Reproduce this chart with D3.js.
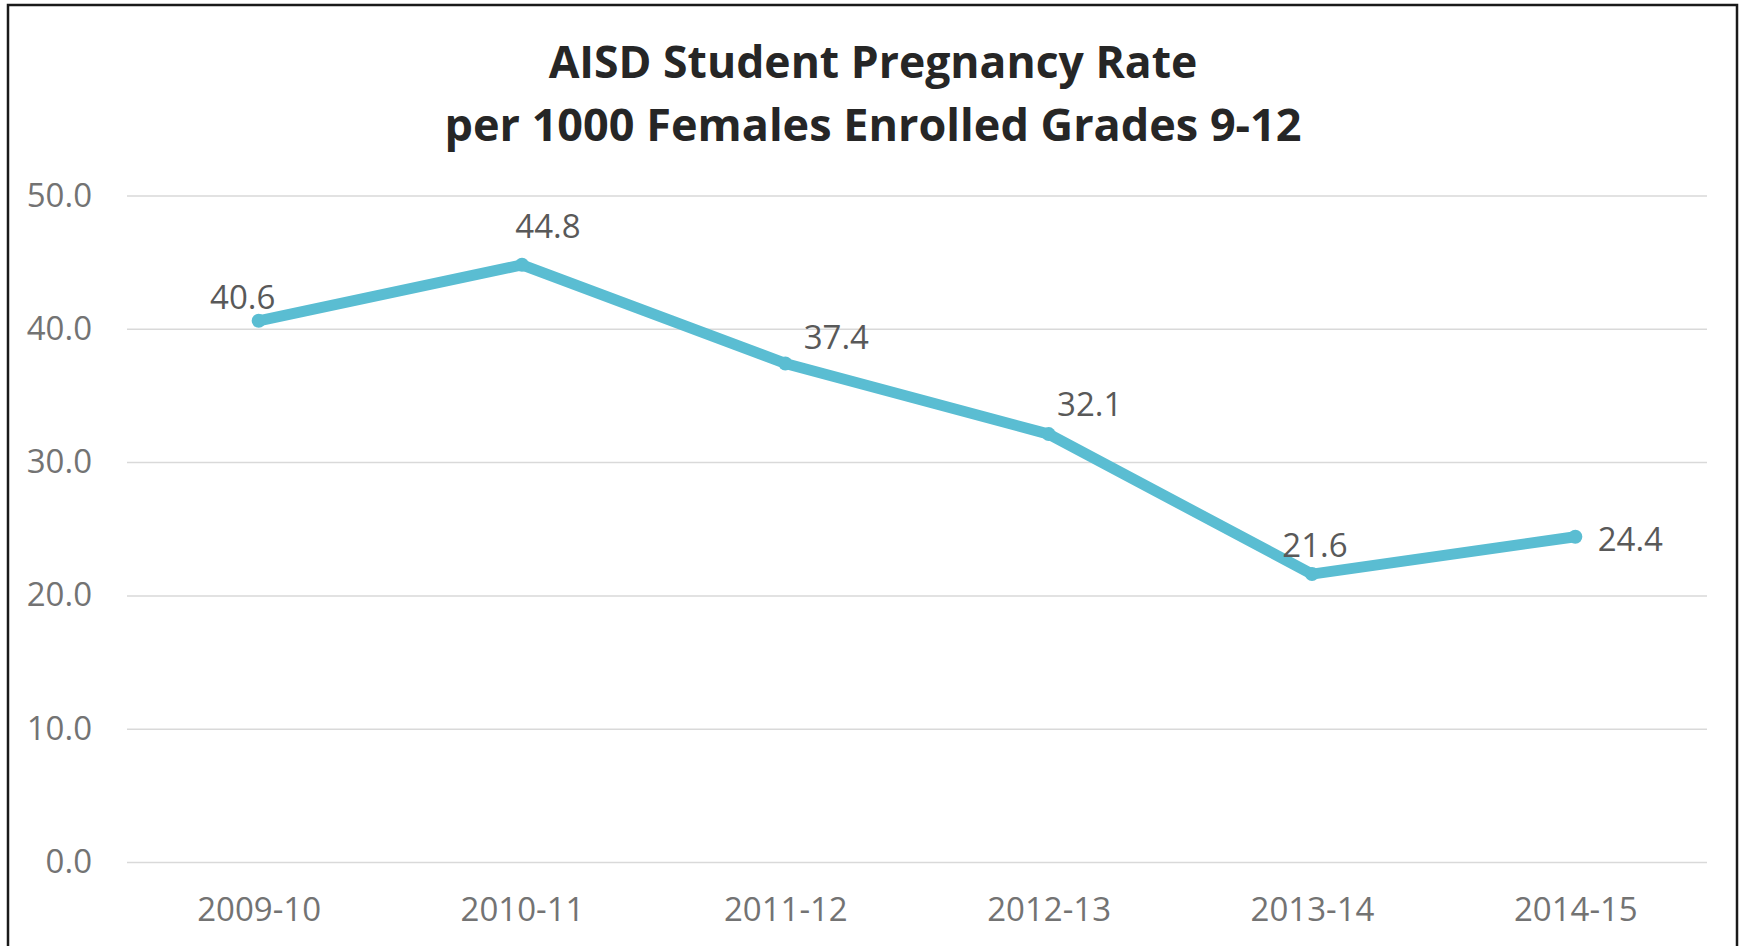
<!DOCTYPE html>
<html>
<head>
<meta charset="utf-8">
<script src="https://cdn.jsdelivr.net/npm/d3@7"></script>
<style>
  html, body { margin: 0; padding: 0; background: #fff; }
  svg { display: block; }
  text { font-family: "Open Sans", "Noto Sans", sans-serif; }
</style>
</head>
<body>
<svg id="chart" width="1741" height="946"></svg>
<script>
// ---- data ----
const categories = ["2009-10", "2010-11", "2011-12", "2012-13", "2013-14", "2014-15"];
const rates = [40.6, 44.8, 37.4, 32.1, 21.6, 24.4];
const yTicks = [0, 10, 20, 30, 40, 50];
const titleLines = ["AISD Student Pregnancy Rate", "per 1000 Females Enrolled Grades 9-12"];
// manual label nudges (layout, as in the original chart)
const labelNudge = [[-16, -12], [26, -27], [51, -14], [41, -18], [3, -17], [55, 14]];

(function () {
  const W = 1741, H = 946;
  const plotLeft = 127, plotRight = 1707, plotTop = 195.5, plotBottom = 862;
  const svg = d3.select("#chart");

  svg.append("rect").attr("x", 0).attr("y", 0).attr("width", W).attr("height", H).attr("fill", "#fff");
  svg.append("rect")
    .attr("x", 8).attr("y", 5).attr("width", 1729).attr("height", 960)
    .attr("fill", "none").attr("stroke", "#1a1a1a").attr("stroke-width", 2.5);

  const x = d3.scalePoint().domain(categories).range([plotLeft, plotRight]).padding(0.5);
  const y = d3.scaleLinear().domain([0, 50]).range([plotBottom, plotTop]);

  svg.append("g").selectAll("text").data(titleLines).join("text")
    .attr("x", 873).attr("y", (d, i) => 78 + i * 63)
    .attr("text-anchor", "middle")
    .attr("font-size", (d, i) => i === 0 ? 44.5 : 45).attr("font-weight", 700).attr("fill", "#262626")
    .text(d => d);

  const yAxis = d3.axisLeft(y).tickValues(yTicks).tickFormat(d3.format(".1f"))
    .tickSize(-(plotRight - plotLeft)).tickPadding(35);
  const gy = svg.append("g").attr("transform", `translate(${plotLeft},0)`).call(yAxis);
  gy.select(".domain").remove();
  gy.selectAll(".tick line").attr("stroke", "#d9d9d9").attr("stroke-width", 1.5);
  gy.selectAll(".tick text").attr("font-size", 33).attr("fill", "#737373")
    .attr("font-family", "'Open Sans', sans-serif");

  const xAxis = d3.axisBottom(x).tickSize(0).tickPadding(0);
  const gx = svg.append("g").attr("transform", `translate(0,${plotBottom})`).call(xAxis);
  gx.select(".domain").remove();
  gx.selectAll(".tick text").attr("font-size", 33).attr("fill", "#737373")
    .attr("font-family", "'Open Sans', sans-serif")
    .attr("y", 59).attr("dy", 0);

  const pts = categories.map((c, i) => ({ c, v: rates[i], i }));
  const line = d3.line().x(d => x(d.c)).y(d => y(d.v));
  svg.append("path").datum(pts)
    .attr("d", line).attr("fill", "none")
    .attr("stroke", "#5abdd2").attr("stroke-width", 11)
    .attr("stroke-linejoin", "round").attr("stroke-linecap", "round");

  svg.append("g").selectAll("circle").data(pts).join("circle")
    .attr("cx", d => x(d.c)).attr("cy", d => y(d.v)).attr("r", 7)
    .attr("fill", "#5abdd2");

  svg.append("g").selectAll("text").data(pts).join("text")
    .attr("x", d => x(d.c) + labelNudge[d.i][0])
    .attr("y", d => y(d.v) + labelNudge[d.i][1])
    .attr("text-anchor", "middle")
    .attr("font-size", 33).attr("fill", "#595959")
    .text(d => d3.format(".1f")(d.v));
})();
</script>
</body>
</html>
